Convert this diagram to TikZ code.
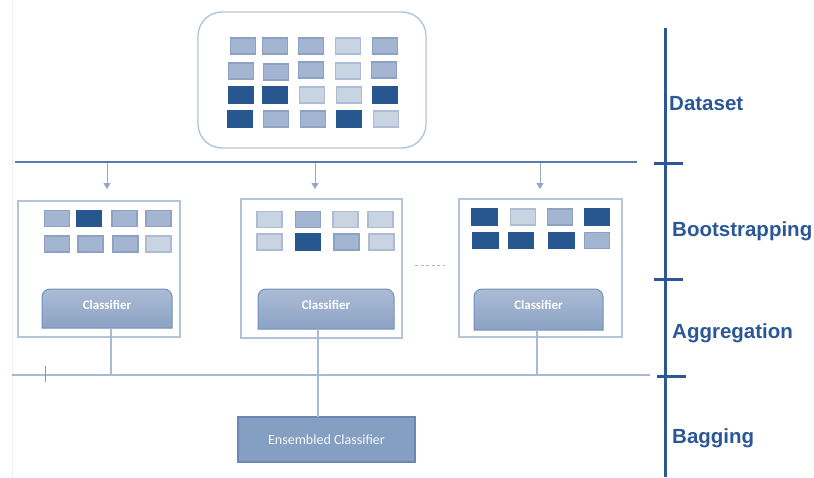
\documentclass[tikz,border=0pt]{standalone}
\usepackage{fontspec}
\setmainfont{Liberation Sans}
\newfontfamily\calib{Carlito}
\usetikzlibrary{arrows.meta}
\definecolor{axisblue}{HTML}{2B5797}
\definecolor{sqdark}{HTML}{28568F}
\definecolor{sqmed}{HTML}{A3B5D0}
\definecolor{sqmededge}{HTML}{8CA1C3}
\definecolor{sqlight}{HTML}{C9D4E3}
\definecolor{sqlightedge}{HTML}{ABBCD4}
\definecolor{frame}{HTML}{B3C3DA}
\definecolor{linemid}{HTML}{5B7BAE}
\definecolor{linesoft}{HTML}{A6BAD6}
\definecolor{clstop}{HTML}{AABBD5}
\definecolor{clsbot}{HTML}{8CA2C4}
\definecolor{clsedge}{HTML}{7290BA}
\definecolor{ensfill}{HTML}{849FC2}
\definecolor{ensedge}{HTML}{6A88B4}
\begin{document}
\begin{tikzpicture}[x=1pt,y=-1pt,
  cell/.style={draw, line width=1.2pt, minimum width=25pt, minimum height=16pt, inner sep=0pt},
  M/.style={cell, fill=sqmed, draw=sqmededge},
  L/.style={cell, fill=sqlight, draw=sqlightedge},
  D/.style={cell, fill=sqdark, draw=sqdark},
  stagebox/.style={draw=frame, line width=1.2pt, inner sep=0pt},
  stagelabel/.style={anchor=west, text=axisblue, font=\bfseries\fontsize{20.5}{24}\selectfont, inner sep=0pt},
  clstext/.style={text=white, font=\calib\bfseries\fontsize{13}{15}\selectfont, inner sep=0pt},
  feed/.style={draw=linesoft, line width=1.2pt},
  drop/.style={draw=linesoft!90!black, line width=0.9pt, -{Triangle[width=7pt,length=6pt]}},
  tick/.style={draw=axisblue, line width=3pt}]
\useasboundingbox (0,0) rectangle (814,477);

% faint page edge
\draw[black!6, line width=0.8pt] (12,0) -- (12,477);

% dataset panel
\node[draw=frame, line width=1.4pt, rounded corners=24pt, minimum width=228pt, minimum height=136pt, inner sep=0pt] (data) at (312,80) {};
\foreach \x/\y/\t [count=\i] in {
  243/46/M, 275/46/M, 311/46/M, 348/46/L, 385/46/M,
  241/71/M, 276/72/M, 311/70/M, 348/71/L, 384/70/M,
  241/95/D, 275/95/D, 312/95/L, 349/95/L, 385/95/D,
  240/119/D, 276/119/M, 313/119/M, 349/119/D, 386/119/L}
  \node[\t] (g\i) at (\x,\y) {};

% split line with draws
\coordinate (sl) at (15,162);
\coordinate (sr) at (637,162);
\draw[linemid, line width=1.8pt] (sl) -- (sr);
\foreach \x [count=\i] in {107,315,540} {
  \coordinate (top\i) at (\x,163);
  \coordinate (tip\i) at (\x,189);
  \draw[drop] (top\i) -- (tip\i);
}

% bootstrap samples
\node[stagebox, minimum width=162pt, minimum height=136pt] (box1) at (99,269) {};
\node[stagebox, minimum width=161pt, minimum height=139pt] (box2) at (321.5,268.5) {};
\node[stagebox, minimum width=163pt, minimum height=138pt] (box3) at (540.5,268) {};

\foreach \x/\y/\t [count=\i] in {
  57/218.5/M, 89/218.5/D, 124.5/218.5/M, 158.5/218.5/M,
  57/244/M, 90.5/244/M, 125.5/244/M, 158.5/244/L}
  \node[\t] (a\i) at (\x,\y) {};
\foreach \x/\y/\t [count=\i] in {
  269.5/219.5/L, 308/219.5/M, 345.5/219.5/L, 380.5/219.5/L,
  269.5/242/L, 308/242/D, 346.5/242/M, 381.5/242/L}
  \node[\t] (b\i) at (\x,\y) {};
\foreach \x/\y/\t [count=\i] in {
  484.5/217/D, 523/217/L, 560/217/M, 597/217/D,
  485.5/240.5/D, 521/240.5/D, 561.5/240.5/D, 597/240.5/M}
  \node[\t] (c\i) at (\x,\y) {};

% classifiers: rounded top, square bottom, vertical gradient
\foreach \xa/\ya/\xb/\yb/\xm/\xo [count=\i] in {42/289/172/328/107/111, 258/289/394/329/326/318, 474/289/603/330/538.5/537} {
  \path[draw=clsedge, line width=1pt, top color=clstop, bottom color=clsbot]
    (\xa,\yb) -- (\xa,\ya+8) arc[start angle=180,end angle=270,radius=8]
    -- (\xb-8,\ya) arc[start angle=270,end angle=360,radius=8] -- (\xb,\yb) -- cycle;
  \node[clstext] (cls\i) at (\xm,305) {Classifier};
  \coordinate (clsb\i) at (\xo,\yb);
}

% ellipsis between samples
\coordinate (el) at (415,265);
\coordinate (er) at (445,265);
\draw[linesoft, line width=0.8pt, dash pattern=on 3pt off 2.5pt] (el) -- (er);

% aggregation line
\coordinate (al) at (12,375);
\coordinate (ar) at (650,375);
\draw[linesoft, line width=1.6pt] (al) -- (ar);
\coordinate (ta) at (45,366);
\coordinate (tb) at (45,382);
\draw[linesoft!80!black, line width=1pt] (ta) -- (tb);
\coordinate (m1) at (111,375);
\coordinate (m3) at (537,375);
\draw[feed] (clsb1) -- (m1);
\draw[feed] (clsb3) -- (m3);

% ensemble
\node[draw=ensedge, line width=1.2pt, fill=ensfill, minimum width=177pt, minimum height=45pt, inner sep=0pt,
  text=white!92!ensfill, font=\calib\fontsize{14}{16}\selectfont] (ens) at (326.5,439.5) {Ensembled Classifier};
\coordinate (ensin) at (318,417);
\draw[feed] (clsb2) -- (ensin);

% stage axis
\coordinate (ax0) at (665,28);
\coordinate (ax1) at (665,477);
\draw[axisblue, line width=3pt] (ax0) -- (ax1);
\foreach \y/\a/\b [count=\i] in {163/654/683, 279/654/683, 376/657/686} {
  \coordinate (ka\i) at (\a,\y);
  \coordinate (kb\i) at (\b,\y);
  \draw[tick] (ka\i) -- (kb\i);
}
\node[stagelabel] (lab1) at (669,104) {Dataset};
\node[stagelabel] (lab2) at (672,231) {Bootstrapping};
\node[stagelabel] (lab3) at (672,333) {Aggregation};
\node[stagelabel] (lab4) at (672,438) {Bagging};
\end{tikzpicture}
\end{document}
